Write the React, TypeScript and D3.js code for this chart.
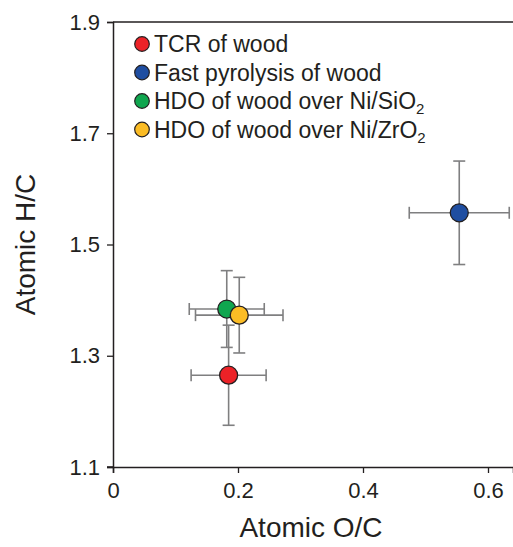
import React, { useRef, useEffect } from "react";
import * as d3 from "d3";

// samples, in legend order
const labels = ["TCR of wood", "Fast pyrolysis of wood", "HDO of wood over Ni/SiO", "HDO of wood over Ni/ZrO"];
const subs = ["", "", "2", "2"];
const colors = ["#ec2227", "#1f4ea1", "#10a64f", "#fbbc25"];
const ocValues = [0.185, 0.554, 0.182, 0.202];
const hcValues = [1.265, 1.557, 1.384, 1.373];
const ocErrors = [0.06, 0.08, 0.06, 0.07];
const hcErrors = [0.09, 0.093, 0.069, 0.068];
const xTicks = [0, 0.2, 0.4, 0.6];
const yTicks = [1.1, 1.3, 1.5, 1.7, 1.9];

const FONT = "'Liberation Sans', Arial, Helvetica, sans-serif";
const INK = "#231f20";

function App() {
    const svgRef = useRef(null);
    useEffect(() => {
        document.body.style.margin = "0";
        var svg = d3.select(svgRef.current);
        svg.selectChildren().remove();
        svg.attr("width", 513).attr("height", 547).style("display", "block");

        var left = 113, right = 513, top = 22, bottom = 467;
        var x = d3.scaleLinear().domain([0, 0.64]).range([left, right]);
        var y = d3.scaleLinear().domain([1.1, 1.9]).range([bottom, top]);

        // top frame
        svg.append("line")
            .attr("x1", left).attr("x2", right)
            .attr("y1", top).attr("y2", top)
            .attr("stroke", INK).attr("stroke-width", 1.5);

        var xAxis = svg.append("g")
            .attr("transform", "translate(0," + bottom + ")")
            .call(d3.axisBottom(x).tickValues(xTicks).tickSizeOuter(0).tickSize(6).tickPadding(9)
                .tickFormat((d) => (d === 0 ? "0" : d3.format(".1f")(d))));
        var yAxis = svg.append("g")
            .attr("transform", "translate(" + left + ",0)")
            .call(d3.axisLeft(y).tickValues(yTicks).tickSizeOuter(0).tickSize(6).tickPadding(7)
                .tickFormat(d3.format(".1f")));
        [xAxis, yAxis].forEach((g) => {
            g.select(".domain").attr("stroke", INK).attr("stroke-width", 1.5);
            g.selectAll(".tick line").attr("stroke", INK).attr("stroke-width", 1.3);
            g.selectAll(".tick text")
                .attr("fill", INK)
                .style("font-family", FONT)
                .style("font-size", "22px");
        });
        // x-axis line reaches past the y-axis like in the original
        svg.append("line")
            .attr("x1", left - 6).attr("x2", left)
            .attr("y1", bottom).attr("y2", bottom)
            .attr("stroke", INK).attr("stroke-width", 1.5);

        // axis titles
        svg.append("text")
            .attr("x", (left + right) / 2 - 2).attr("y", 537)
            .attr("text-anchor", "middle")
            .attr("fill", INK)
            .style("font-family", FONT).style("font-size", "28px")
            .text("Atomic O/C");
        svg.append("text")
            .attr("transform", "translate(35," + (top + bottom) / 2 + ") rotate(-90)")
            .attr("text-anchor", "middle")
            .attr("fill", INK)
            .style("font-family", FONT).style("font-size", "28px")
            .text("Atomic H/C");

        var idx = d3.range(labels.length);
        var errColor = "#7f7f80";
        var cap = 6;
        var bars = svg.append("g")
            .attr("stroke", errColor).attr("stroke-width", 1.6).attr("fill", "none");
        idx.forEach((i) => {
            var cx = x(ocValues[i]), cy = y(hcValues[i]);
            var x0 = x(ocValues[i] - ocErrors[i]), x1 = x(ocValues[i] + ocErrors[i]);
            var y0 = y(hcValues[i] - hcErrors[i]), y1 = y(hcValues[i] + hcErrors[i]);
            bars.append("line").attr("x1", x0).attr("x2", x1).attr("y1", cy).attr("y2", cy);
            bars.append("line").attr("x1", x0).attr("x2", x0).attr("y1", cy - cap).attr("y2", cy + cap);
            bars.append("line").attr("x1", x1).attr("x2", x1).attr("y1", cy - cap).attr("y2", cy + cap);
            bars.append("line").attr("x1", cx).attr("x2", cx).attr("y1", y0).attr("y2", y1);
            bars.append("line").attr("x1", cx - cap).attr("x2", cx + cap).attr("y1", y0).attr("y2", y0);
            bars.append("line").attr("x1", cx - cap).attr("x2", cx + cap).attr("y1", y1).attr("y2", y1);
        });

        svg.append("g")
            .selectAll("circle")
            .data(idx)
            .join("circle")
            .attr("cx", (i) => x(ocValues[i]))
            .attr("cy", (i) => y(hcValues[i]))
            .attr("r", 9)
            .attr("fill", (i) => colors[i])
            .attr("stroke", INK)
            .attr("stroke-width", 1.3);

        // legend
        var legend = svg.append("g").attr("transform", "translate(142,44)");
        var rows = legend.selectAll("g")
            .data(idx)
            .join("g")
            .attr("transform", (i) => "translate(0," + i * 28.5 + ")");
        rows.append("circle")
            .attr("r", 7.3)
            .attr("fill", (i) => colors[i])
            .attr("stroke", INK)
            .attr("stroke-width", 1.2);
        var txt = rows.append("text")
            .attr("x", 12).attr("y", 8)
            .attr("fill", INK)
            .style("font-family", FONT)
            .style("font-size", "23px");
        txt.append("tspan").text((i) => labels[i]);
        txt.append("tspan")
            .attr("dy", 5)
            .style("font-size", "15px")
            .text((i) => subs[i]);
    }, []);
    return (
        <React.Fragment>
            <svg ref={svgRef}></svg>
        </React.Fragment>
    );
}

export default App;
